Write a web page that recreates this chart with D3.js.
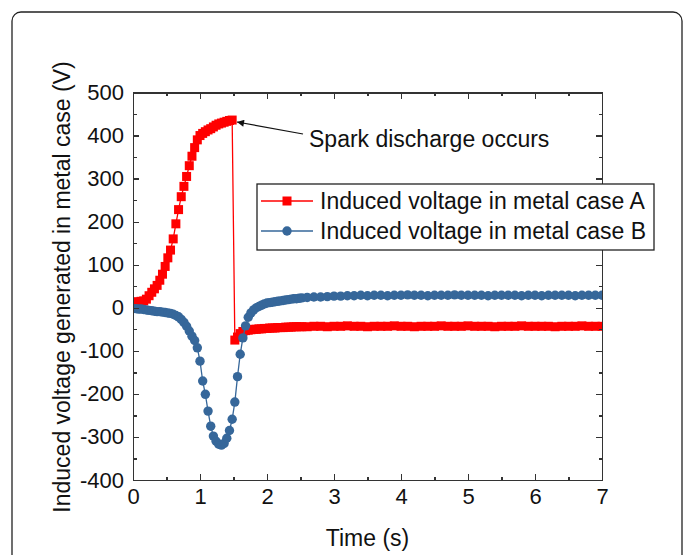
<!DOCTYPE html>
<html>
  <head>
    <meta charset="utf-8">
    <script src="https://d3js.org/d3.v7.min.js"></script>
    <style>
      body {
        margin: 0;
        background: #fff;
      }
      svg {
        font-family: "Liberation Sans", Arial, sans-serif;
      }
      .axis path,
      .axis line {
        fill: none;
        stroke: #333;
        stroke-width: 1.3;
        shape-rendering: crispEdges;
      }
      .axis text {
        font-size: 22px;
        fill: #111;
      }
    </style>
  </head>
  <body>
    <script>
      // sample times (s)
      var time = [0, 0.04, 0.08, 0.12, 0.16, 0.2, 0.24, 0.28, 0.32, 0.36,
        0.4, 0.44, 0.48, 0.52, 0.56, 0.6, 0.64, 0.68, 0.72, 0.76,
        0.8, 0.84, 0.88, 0.92, 0.96, 1, 1.04, 1.08, 1.12, 1.16,
        1.2, 1.24, 1.28, 1.32, 1.36, 1.4, 1.44, 1.48, 1.52, 1.56,
        1.6, 1.64, 1.68, 1.72, 1.76, 1.8, 1.84, 1.88, 1.92, 1.96,
        2, 2.04, 2.08, 2.12, 2.16, 2.2, 2.24, 2.28, 2.32, 2.36,
        2.4, 2.44, 2.48, 2.52,
        2.6, 2.7, 2.8, 2.9, 3, 3.1, 3.2, 3.3, 3.4, 3.5,
        3.6, 3.7, 3.8, 3.9, 4, 4.1, 4.2, 4.3, 4.4, 4.5,
        4.6, 4.7, 4.8, 4.9, 5, 5.1, 5.2, 5.3, 5.4, 5.5,
        5.6, 5.7, 5.8, 5.9, 6, 6.1, 6.2, 6.3, 6.4, 6.5,
        6.6, 6.7, 6.8, 6.9, 7];

      // induced voltage in metal case A (V)
      var caseA = [12, 13, 14, 15, 16, 20, 28, 36, 44, 52,
        64, 78, 96, 116, 134, 160, 195, 228, 258, 282,
        305, 330, 352, 372, 390, 400, 405, 409, 413, 416,
        420, 424, 427, 429, 431, 433, 435, 436, -75, -68,
        -60, -55, -53, -52, -51, -50, -50, -49, -49, -48,
        -48, -47, -47, -47, -46, -46, -46, -45, -45, -45,
        -44, -44, -44, -44,
        -44, -43, -43, -44, -43, -43, -42, -43, -43, -44,
        -43, -43, -43, -42, -43, -43, -44, -43, -43, -43,
        -42, -43, -43, -43, -42, -43, -43, -43, -44, -43,
        -43, -43, -42, -43, -43, -43, -43, -44, -43, -43,
        -43, -42, -43, -43, -43];

      // induced voltage in metal case B (V)
      var caseB = [-2, -2, -3, -3, -4, -5, -6, -7, -8, -9,
        -9, -10, -11, -12, -13, -15, -18, -21, -27, -34,
        -43, -54, -66, -76, -93, -124, -170, -201, -240, -275,
        -298, -310, -317, -319, -315, -303, -285, -259, -219, -160,
        -108, -70, -42, -22, -12, -5, 0, 3, 6, 9,
        11, 12, 13, 14, 15, 16, 17, 18, 19, 20,
        21, 21, 22, 23,
        24, 25, 25, 26, 27, 27, 28, 28, 29, 28,
        29, 29, 28, 29, 29, 30, 29, 29, 28, 29,
        29, 29, 30, 29, 29, 29, 29, 28, 29, 29,
        29, 29, 28, 29, 29, 28, 29, 29, 29, 29,
        28, 29, 29, 29, 29];

      var xTicks = [0, 1, 2, 3, 4, 5, 6, 7];
      var xMinor = [0.5, 1.5, 2.5, 3.5, 4.5, 5.5, 6.5];
      var yTicks = [-400, -300, -200, -100, 0, 100, 200, 300, 400, 500];
      var yMinor = [-350, -250, -150, -50, 50, 150, 250, 350, 450];

      var seriesNames = ["Induced voltage in metal case A", "Induced voltage in metal case B"];
      var seriesColors = ["#ff0000", "#36679a"];

      var W = 683, H = 555;
      var pLeft = 133, pRight = 602, pTop = 92.5, pBottom = 480;
      var sq = 9, rad = 4.7;

      var svg = d3.select("body").append("svg")
        .attr("width", W)
        .attr("height", H);

      // outer frame (bottom edge runs off the picture)
      svg.append("rect")
        .attr("x", 12).attr("y", 12)
        .attr("width", 670).attr("height", 580)
        .attr("rx", 9)
        .attr("fill", "none")
        .attr("stroke", "#222")
        .attr("stroke-width", 1.3);

      var x = d3.scaleLinear().domain([0, 7]).range([pLeft, pRight]);
      var y = d3.scaleLinear().domain([-400, 500]).range([pBottom, pTop]);

      svg.append("clipPath").attr("id", "plot")
        .append("rect")
        .attr("x", pLeft).attr("y", pTop)
        .attr("width", pRight - pLeft).attr("height", pBottom - pTop);

      var plot = svg.append("g").attr("clip-path", "url(#plot)");

      var line = d3.line()
        .x(function(d) { return x(d[0]); })
        .y(function(d) { return y(d[1]); });

      var dataA = time.map(function(t, i) { return [t, caseA[i]]; });
      var dataB = time.map(function(t, i) { return [t, caseB[i]]; });

      // series A: red squares
      plot.append("path")
        .datum(dataA)
        .attr("d", line)
        .attr("fill", "none")
        .attr("stroke", seriesColors[0])
        .attr("stroke-width", 1.3);
      plot.selectAll(".sqA")
        .data(dataA)
        .enter().append("rect")
        .attr("class", "sqA")
        .attr("x", function(d) { return x(d[0]) - sq / 2; })
        .attr("y", function(d) { return y(d[1]) - sq / 2; })
        .attr("width", sq)
        .attr("height", sq)
        .attr("fill", seriesColors[0]);

      // series B: blue circles
      plot.append("path")
        .datum(dataB)
        .attr("d", line)
        .attr("fill", "none")
        .attr("stroke", seriesColors[1])
        .attr("stroke-width", 1.3);
      plot.selectAll(".ciB")
        .data(dataB)
        .enter().append("circle")
        .attr("class", "ciB")
        .attr("cx", function(d) { return x(d[0]); })
        .attr("cy", function(d) { return y(d[1]); })
        .attr("r", rad)
        .attr("fill", seriesColors[1]);

      // axes, ticks all pointing inward; plain hyphen for negatives
      var fmt = function(d) { return String(d); };
      svg.append("g").attr("class", "axis")
        .attr("transform", "translate(0," + pBottom + ")")
        .call(d3.axisBottom(x).tickValues(xTicks).tickFormat(fmt).tickSizeInner(-6).tickSizeOuter(0).tickPadding(8));
      svg.append("g").attr("class", "axis")
        .attr("transform", "translate(0," + pBottom + ")")
        .call(d3.axisBottom(x).tickValues(xMinor).tickSizeInner(-3.5).tickSizeOuter(0).tickFormat(""));
      svg.append("g").attr("class", "axis")
        .attr("transform", "translate(0," + pTop + ")")
        .call(d3.axisTop(x).tickValues(xTicks).tickSizeInner(-6).tickSizeOuter(0).tickFormat(""));
      svg.append("g").attr("class", "axis")
        .attr("transform", "translate(0," + pTop + ")")
        .call(d3.axisTop(x).tickValues(xMinor).tickSizeInner(-3.5).tickSizeOuter(0).tickFormat(""));
      svg.append("g").attr("class", "axis")
        .attr("transform", "translate(" + pLeft + ",0)")
        .call(d3.axisLeft(y).tickValues(yTicks).tickFormat(fmt).tickSizeInner(-6).tickSizeOuter(0).tickPadding(9));
      svg.append("g").attr("class", "axis")
        .attr("transform", "translate(" + pLeft + ",0)")
        .call(d3.axisLeft(y).tickValues(yMinor).tickSizeInner(-3.5).tickSizeOuter(0).tickFormat(""));
      svg.append("g").attr("class", "axis")
        .attr("transform", "translate(" + pRight + ",0)")
        .call(d3.axisRight(y).tickValues(yTicks).tickSizeInner(-6).tickSizeOuter(0).tickFormat(""));
      svg.append("g").attr("class", "axis")
        .attr("transform", "translate(" + pRight + ",0)")
        .call(d3.axisRight(y).tickValues(yMinor).tickSizeInner(-3.5).tickSizeOuter(0).tickFormat(""));

      // axis titles
      svg.append("text")
        .attr("x", (pLeft + pRight) / 2)
        .attr("y", 546)
        .attr("text-anchor", "middle")
        .attr("font-size", 23)
        .attr("fill", "#111")
        .text("Time (s)");
      svg.append("text")
        .attr("transform", "translate(62,287) rotate(-90)")
        .attr("dy", "0.35em")
        .attr("text-anchor", "middle")
        .attr("font-size", 23)
        .attr("fill", "#111")
        .text("Induced voltage generated in metal case (V)");

      // annotation
      svg.append("defs").append("marker")
        .attr("id", "arrow")
        .attr("viewBox", "0 0 10 10")
        .attr("refX", 10).attr("refY", 5)
        .attr("markerWidth", 10).attr("markerHeight", 7)
        .attr("markerUnits", "userSpaceOnUse")
        .attr("orient", "auto")
        .append("path")
        .attr("d", "M0,0 L10,5 L0,10 Z")
        .attr("fill", "#111");
      svg.append("line")
        .attr("x1", 303).attr("y1", 134)
        .attr("x2", 237).attr("y2", 122)
        .attr("stroke", "#111")
        .attr("stroke-width", 1.2)
        .attr("marker-end", "url(#arrow)");
      svg.append("text")
        .attr("x", 309).attr("y", 139)
        .attr("dy", "0.35em")
        .attr("font-size", 23)
        .attr("fill", "#111")
        .text("Spark discharge occurs");

      // legend
      var lg = svg.append("g").attr("transform", "translate(257,184)");
      lg.append("rect")
        .attr("width", 397).attr("height", 66)
        .attr("fill", "#fff")
        .attr("stroke", "#222")
        .attr("stroke-width", 1.3);
      seriesNames.forEach(function(name, i) {
        var ly = 17 + i * 30;
        lg.append("line")
          .attr("x1", 4).attr("x2", 56)
          .attr("y1", ly).attr("y2", ly)
          .attr("stroke", seriesColors[i])
          .attr("stroke-width", 1.3);
        if (i === 0) {
          lg.append("rect")
            .attr("x", 30 - sq / 2).attr("y", ly - sq / 2)
            .attr("width", sq).attr("height", sq)
            .attr("fill", seriesColors[i]);
        } else {
          lg.append("circle")
            .attr("cx", 30).attr("cy", ly)
            .attr("r", rad)
            .attr("fill", seriesColors[i]);
        }
        lg.append("text")
          .attr("x", 63).attr("y", ly)
          .attr("dy", "0.35em")
          .attr("font-size", 23)
          .attr("fill", "#111")
          .text(name);
      });
    </script>
  </body>
</html>
